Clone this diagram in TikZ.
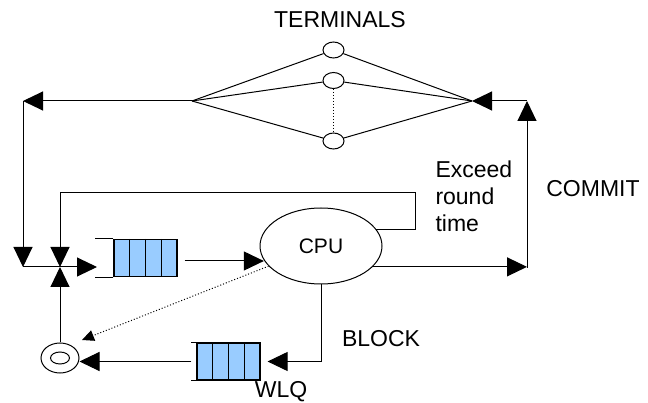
\documentclass[tikz,border=0pt]{standalone}
\usepackage{fontspec}
\setmainfont{Liberation Sans}
\usetikzlibrary{arrows.meta,shapes.geometric,calc}

\definecolor{qblue}{HTML}{99CCFF}

\tikzset{
  >={Triangle[length=20pt,width=19pt]},
  term/.style={draw,ellipse,minimum width=21pt,minimum height=16pt,inner sep=0pt},
  queue/.style={draw,line width=1.2pt,fill=qblue,minimum width=63pt,minimum height=37pt,inner sep=0pt},
  lbl/.style={font=\fontsize{23pt}{27pt}\selectfont,inner sep=0pt},
}

\begin{document}
\begin{tikzpicture}[x=1pt,y=-1pt,line width=1pt]
\useasboundingbox (0,0) rectangle (648,403);

% terminals
\node[lbl,anchor=base] (termtxt) at (340,28) {TERMINALS};
\node[term] (t1) at (333.5,50) {};
\node[term] (t2) at (333.5,80.5) {};
\node[term] (t3) at (333.5,141) {};
\coordinate (fl) at (192,101);
\coordinate (fr) at (472,101);
\foreach \t in {t1,t2,t3}
  \draw (fl) -- (\t) -- (fr);
\draw[dotted] (t2) -- (t3);

% cpu and queues
\node[draw,ellipse,minimum width=122pt,minimum height=76pt,
      font=\fontsize{21pt}{25pt}\selectfont] (cpu) at (321,246) {CPU};
\node[queue] (q1) at (145.5,258) {};
\node[queue] (q2) at (228.5,361.5) {};
\foreach \q in {q1,q2}
  \foreach \k in {1,2,3}
    \draw[line width=1.2pt] ($(\q.north west)!\k/4!(\q.north east)$)
                         -- ($(\q.south west)!\k/4!(\q.south east)$);
\draw (q1.north west) -- ++(-18,0) (q1.south west) -- ++(-18,0);
\draw (q2.north west) -- ++(-5,0) (q2.south west) -- ++(-5,0);

% wait point
\node[draw,ellipse,minimum width=38pt,minimum height=30pt] (wait) at (60,358) {};
\node[draw,ellipse,minimum width=19pt,minimum height=12pt] (waitin) at (wait) {};

% corners
\coordinate (ctl) at (23,101);
\coordinate (cbl) at (23,267);
\coordinate (ctr) at (527,101);
\coordinate (cbr) at (527,268);
\coordinate (merge) at (60,267);
\coordinate (q1in) at (97,267);
\coordinate (rtime) at (415,193);
\coordinate (q1out) at ($(q1.east)+(7,3)$);
\coordinate (q2in) at ($(q2.east)+(7,0)$);
\coordinate (q2out) at ($(q2.west)+(-5,0)$);
\coordinate (dotend) at (82,340);

% back to the cpu
\draw[->] (fl) -- (ctl);
\draw[->] (ctl) -- (cbl);
\draw[->] (cbl) -- (q1in);
\draw[->] (cpu.17) -| (rtime) -| (merge);
\draw[->] (wait) -- (merge);
\draw[->] (q1out) -- (q1out -| cpu.194);

% commit
\draw[->] (cpu.-22) -- (cpu.-22 -| cbr);
\draw[->] (cbr) -- (ctr);
\draw[->] (ctr) -- (fr);

% block
\draw[->] (cpu.south) |- (q2in);
\draw[->] (q2out) -- (q2out -| wait.east);
\draw[dotted,-{Triangle[length=12pt,width=11pt]}] (cpu.201) -- (dotend);

% labels
\node[lbl,anchor=north west,align=left] (exceed) at (435,160.5) {Exceed\\round\\time};
\node[lbl,anchor=base] (commit) at (593,197) {COMMIT};
\node[lbl,anchor=base] (block) at (381,346) {BLOCK};
\node[lbl,anchor=base] (wlq) at (281,397) {WLQ};
\end{tikzpicture}
\end{document}
